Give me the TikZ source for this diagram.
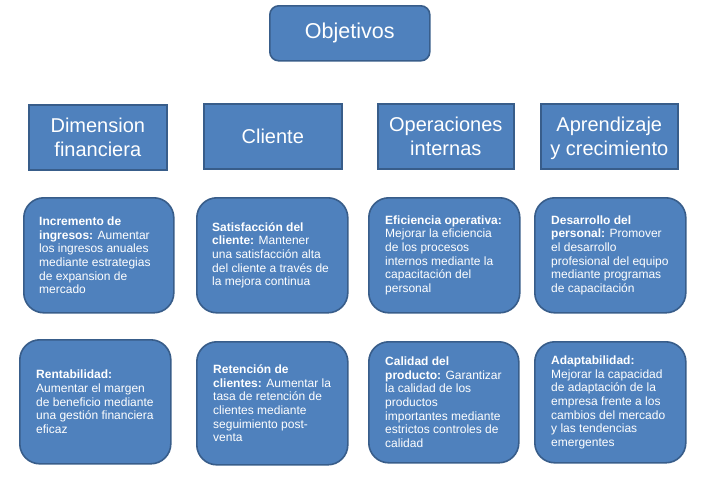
\documentclass[tikz,border=0pt]{standalone}
\usepackage{fontspec}
\setmainfont{Liberation Sans}
\definecolor{boxfill}{HTML}{4F81BD}
\definecolor{boxline}{HTML}{385D8A}
\begin{document}
\begin{tikzpicture}[x=1pt,y=-1pt,
  base/.style={draw=boxline, fill=boxfill, line width=1.6pt, inner sep=0pt, anchor=north west},
  topbox/.style={base, rounded corners=9pt, text=white, font=\fontsize{21.5}{24}\selectfont},
  headbox/.style={base, text=white, align=center, font=\fontsize{20}{23.5}\selectfont},
  roundbox/.style={base, rounded corners=20pt},
  boxtext/.style={anchor=west, text=white, align=left, inner sep=0pt, font=\fontsize{12}{13.7}\selectfont}
]
\useasboundingbox (0,0) rectangle (706,477);

\node[topbox, minimum width=160pt, minimum height=55pt] (obj) at (269,5) {Objetivos};

\node[headbox, minimum width=138pt, minimum height=65pt] (h1) at (28,104) {Dimension\\financiera};
\node[headbox, minimum width=138pt, minimum height=65pt] (h2) at (203,103) {Cliente};
\node[headbox, minimum width=136pt, minimum height=65pt] (h3) at (377,103) {Operaciones\\internas};
\node[headbox, minimum width=137pt, minimum height=65pt] (h4) at (540,103) {Aprendizaje\\\smash{y} crecimiento};

% row 1
\node[roundbox, minimum width=150pt, minimum height=115pt] (b11) at (23,197) {};
\node[roundbox, minimum width=151pt, minimum height=115pt] (b12) at (196,197) {};
\node[roundbox, minimum width=151pt, minimum height=115pt] (b13) at (368,197) {};
\node[roundbox, minimum width=151pt, minimum height=115pt] (b14) at (534,197) {};
% row 2
\node[roundbox, minimum width=151pt, minimum height=124pt] (b21) at (19,339) {};
\node[roundbox, minimum width=151pt, minimum height=123pt] (b22) at (196,341) {};
\node[roundbox, minimum width=150pt, minimum height=121pt] (b23) at (368,341) {};
\node[roundbox, minimum width=151pt, minimum height=121pt] (b24) at (534,341) {};

\node[boxtext] (t11) at ([xshift=16pt]b11.west) {\textbf{Incremento de}\\\textbf{ingresos:} Aumentar\\los ingresos anuales\\mediante estrategias\\de expansion de\\mercado};
\node[boxtext] (t12) at ([xshift=16pt]b12.west) {\textbf{Satisfacción del}\\\textbf{cliente:} Mantener\\una satisfacción alta\\del cliente a través de\\la mejora continua};
\node[boxtext] (t13) at ([xshift=17pt]b13.west) {\textbf{Eficiencia operativa:}\\Mejorar la eficiencia\\de los procesos\\internos mediante la\\capacitación del\\personal};
\node[boxtext] (t14) at ([xshift=17pt]b14.west) {\textbf{Desarrollo del}\\\textbf{personal:} Promover\\el desarrollo\\profesional del equipo\\mediante programas\\de capacitación};

\node[boxtext] (t21) at ([xshift=17pt]b21.west) {\textbf{Rentabilidad:}\\Aumentar el margen\\de beneficio mediante\\una gestión financiera\\eficaz};
\node[boxtext] (t22) at ([xshift=17pt]b22.west) {\textbf{Retención de}\\\textbf{clientes:} Aumentar la\\tasa de retención de\\clientes mediante\\seguimiento post-\\venta};
\node[boxtext] (t23) at ([xshift=17pt]b23.west) {\textbf{Calidad del}\\\textbf{producto:} Garantizar\\la calidad de los\\productos\\importantes mediante\\estrictos controles de\\calidad};
\node[boxtext] (t24) at ([xshift=17pt]b24.west) {\textbf{Adaptabilidad:}\\Mejorar la capacidad\\de adaptación de la\\empresa frente a los\\cambios del mercado\\y las tendencias\\emergentes};
\end{tikzpicture}
\end{document}
